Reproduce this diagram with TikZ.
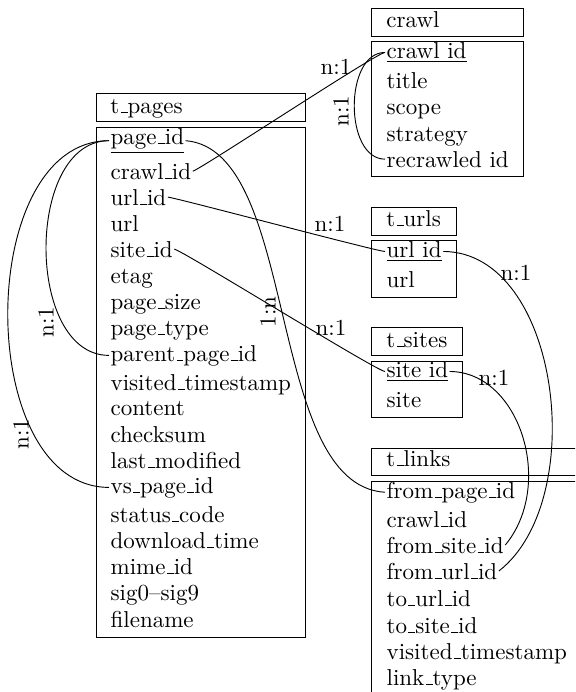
\documentclass[tikz,border=0pt]{standalone}
\newcommand\uscore{\leavevmode\kern.06em\vbox{\hrule width.3em}}
\begin{document}
\begin{tikzpicture}[x=0.4348pt,y=-0.4348pt,
  fld/.style={anchor=base west, inner xsep=0.5pt, inner ysep=0pt},
  ttl/.style={anchor=base west, inner sep=0pt},
  tbl/.style={draw, line width=0.4pt},
  rel/.style={line width=0.4pt},
  card/.style={inner sep=0.5pt},
  vcard/.style={inner sep=0.5pt, rotate=90}]
\path[use as bounding box] (0,0) rectangle (575,692);
\clip (0,0) rectangle (575,692);

% ---- t_pages
\draw[tbl] (96,93) rectangle (305,121);
\draw[tbl] (96,127) rectangle (305,637);
\node[ttl] (tpages) at (110,113) {t\uscore pages};
\node[fld] (p-pageid) at (109,144) {\underline{page\uscore id}};
\foreach \n/\t/\y in {crawlid/crawl\uscore id/179, urlid/url\uscore id/205, url/url/231,
  siteid/site\uscore id/257, etag/etag/283, pagesize/page\uscore size/309, pagetype/page\uscore type/335,
  parent/parent\uscore page\uscore id/361, visited/visited\uscore timestamp/390, content/content/415,
  checksum/checksum/442, lastmod/last\uscore modified/468, vspage/vs\uscore page\uscore id/493,
  status/status\uscore code/522, download/download\uscore time/548, mime/mime\uscore id/574,
  sig/sig0--sig9/600, filename/filename/627}
  \node[fld] (p-\n) at (109,\y) {\t};

% ---- crawl
\draw[tbl] (371,8) rectangle (523,36);
\draw[tbl] (371,41) rectangle (523,176);
\node[ttl] (tcrawl) at (386,27) {crawl};
\node[fld] (c-crawlid) at (385,58) {\underline{crawl id}};
\node[fld] (c-title) at (385,88) {title};
\node[fld] (c-scope) at (385,114) {scope};
\node[fld] (c-strategy) at (385,141) {strategy};
\node[fld] (c-recrawled) at (385,167) {recrawled id};

% ---- t_urls
\draw[tbl] (371,207) rectangle (456,235);
\draw[tbl] (371,240) rectangle (456,297);
\node[ttl] (turls) at (386,226) {t\uscore urls};
\node[fld] (u-urlid) at (385,257) {\underline{url id}};
\node[fld] (u-url) at (385,287) {url};

% ---- t_sites
\draw[tbl] (371,327) rectangle (462,355);
\draw[tbl] (371,361) rectangle (462,417);
\node[ttl] (tsites) at (386,347) {t\uscore sites};
\node[fld] (s-siteid) at (385,377) {\underline{site id}};
\node[fld] (s-site) at (385,407) {site};

% ---- t_links
\draw[tbl] (371,448) rectangle (581,475);
\draw[tbl] (371,481) rectangle (581,705);
\node[ttl] (tlinks) at (386,466) {t\uscore links};
\foreach \n/\t/\y in {frompage/from\uscore page\uscore id/498, crawlid/crawl\uscore id/527,
  fromsite/from\uscore site\uscore id/553, fromurl/from\uscore url\uscore id/579, tourl/to\uscore url\uscore id/606,
  tosite/to\uscore site\uscore id/633, visited/visited\uscore timestamp/659, linktype/link\uscore type/685}
  \node[fld] (l-\n) at (385,\y) {\t};

% ---- connectors
\draw[rel] (p-crawlid.east) .. controls +(5,0) and +(-8,0) .. (c-crawlid.west);
\draw[rel] (c-crawlid.west) .. controls +(-41,0) and +(-41,0) .. (c-recrawled.west);
\draw[rel] (p-urlid.east) .. controls +(6,0) and +(-8,0) .. (u-urlid.west);
\draw[rel] (p-siteid.east) .. controls +(6,0) and +(-8,0) .. (s-siteid.west);
\draw[rel] (p-pageid.west) .. controls +(-84,0) and +(-84,0) .. (p-parent.west);
\draw[rel] (p-pageid.west) .. controls +(-135,0) and +(-135,0) .. (p-vspage.west);
\draw[rel] (p-pageid.east) .. controls (300,150) and (265,485) .. (l-frompage.west);
\draw[rel] (u-urlid.east) .. controls (560,252) and (590,500) .. (l-fromurl.east);
\draw[rel] (s-siteid.east) .. controls (520,372) and (555,485) .. (l-fromsite.east);

% ---- cardinalities
\node[card] (k1) at (336,67) {n:1};
\node[vcard] (k2) at (341,111) {n:1};
\node[card] (k3) at (330,224) {n:1};
\node[card] (k4) at (331,328) {n:1};
\node[vcard] (k5) at (46,322) {n:1};
\node[vcard] (k6) at (21,434) {n:1};
\node[vcard] (k7) at (268,312) {1:n};
\node[card] (k8) at (516,273) {n:1};
\node[card] (k9) at (494,378) {n:1};
\end{tikzpicture}
\end{document}
